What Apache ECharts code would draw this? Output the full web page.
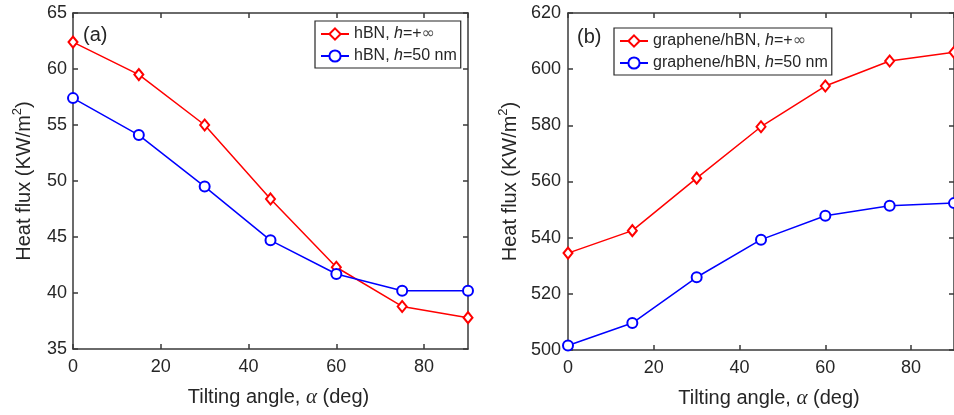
<!DOCTYPE html>
<html>
<head>
<meta charset="utf-8">
<script src="https://cdn.jsdelivr.net/npm/echarts@6/dist/echarts.min.js"></script>
<style>
  html, body { margin: 0; padding: 0; background: #fff; }
  #chart { width: 954px; height: 415px; }
</style>
</head>
<body>
<div id="chart"></div>
<script>
// Tilting angle (deg)
const angles = [0, 15, 30, 45, 60, 75, 90];

// (a) hBN heat flux, KW/m^2
const hbnInf = [62.4, 59.5, 55.0, 48.4, 42.3, 38.8, 37.8];
const hbn50 = [57.4, 54.1, 49.5, 44.7, 41.7, 40.2, 40.2];

// (b) graphene/hBN heat flux, KW/m^2
const grInf = [534.5, 542.5, 561.2, 579.5, 594.0, 602.9, 606.0];
const gr50 = [501.6, 509.6, 525.9, 539.3, 547.8, 551.4, 552.3];

const seriesNames = ['hBN, h=+∞', 'hBN, h=50 nm', 'graphene/hBN, h=+∞', 'graphene/hBN, h=50 nm'];

const FONT = 'Liberation Sans, Arial, Helvetica, sans-serif';
const TEXT = '#262626';
const AXIS = '#3a3a3a';
const RED = '#ff0000';
const BLUE = '#0000ff';

const pairs = (ys) => angles.map((a, i) => [a, ys[i]]);

const richText = {
  t: { fontFamily: FONT, fontSize: 16, color: TEXT },
  i: { fontFamily: FONT, fontSize: 16, fontStyle: 'italic', color: TEXT },
  inf: { fontFamily: 'DejaVu Sans, sans-serif', fontSize: 16, color: '#555' }
};
function legendLabel(name) {
  const m = name.match(/^(.*), h=(.*)$/);
  const v = m[2] === '+∞' ? '{t|=+}{inf|∞}' : '{t|=' + m[2] + '}';
  return '{t|' + m[1] + ', }{i|h}' + v;
}

function xAxes(gridIndex) {
  const base = {
    type: 'value', gridIndex, min: 0, max: 90, interval: 20,
    axisLine: { show: true, onZero: false, lineStyle: { color: AXIS, width: 1.5 } },
    axisTick: { show: true, inside: true, length: 5, lineStyle: { color: AXIS, width: 1.5 } },
    splitLine: { show: false }
  };
  return [
    Object.assign({}, base, {
      position: 'bottom',
      name: 'Tilting angle, {a|α} (deg)',
      nameLocation: 'middle', nameGap: 38,
      nameTextStyle: {
        fontFamily: FONT, fontSize: 20, color: TEXT, padding: [0, 0, 0, 16],
        rich: {
          a: { fontFamily: 'Liberation Serif, serif', fontStyle: 'italic', fontSize: 21, color: TEXT }
        }
      },
      axisLabel: { show: true, showMaxLabel: false, margin: 9, fontFamily: FONT, fontSize: 18, color: TEXT }
    }),
    Object.assign({}, base, { position: 'top', axisLabel: { show: false } })
  ];
}

function yAxes(gridIndex, min, max, interval, gap, margin) {
  const base = {
    type: 'value', gridIndex, min, max, interval,
    axisLine: { show: true, onZero: false, lineStyle: { color: AXIS, width: 1.5 } },
    axisTick: { show: true, inside: true, length: 5, lineStyle: { color: AXIS, width: 1.5 } },
    splitLine: { show: false }
  };
  return [
    Object.assign({}, base, {
      position: 'left',
      name: 'Heat flux (KW/m{s|2})',
      nameLocation: 'middle', nameGap: gap, nameRotate: 90,
      nameTextStyle: {
        fontFamily: FONT, fontSize: 20, color: TEXT, lineHeight: 26,
        rich: {
          s: { fontFamily: FONT, fontSize: 13, color: TEXT, verticalAlign: 'top', lineHeight: 26 }
        }
      },
      axisLabel: { show: true, margin: margin, fontFamily: FONT, fontSize: 18, color: TEXT }
    }),
    Object.assign({}, base, { position: 'right', axisLabel: { show: false } })
  ];
}

function lineSeries(name, ys, color, symbol, size, xi, yi) {
  return {
    type: 'line', name, data: pairs(ys),
    xAxisIndex: xi, yAxisIndex: yi,
    symbol, symbolSize: size, showAllSymbol: true,
    lineStyle: { color, width: 1.5 },
    itemStyle: { color, borderColor: color, borderWidth: 1.5 },
    emphasis: { disabled: true },
    animation: false, z: 3
  };
}

function legendBox(left, top, names) {
  return {
    data: names, orient: 'vertical', left, top,
    padding: [5, 4, 4, 5], itemGap: 6, itemWidth: 28, itemHeight: 14,
    borderColor: TEXT, borderWidth: 1.2, backgroundColor: '#fff',
    selectedMode: false,
    formatter: legendLabel,
    textStyle: { fontFamily: FONT, fontSize: 16, color: TEXT, rich: richText }
  };
}

const chart = echarts.init(document.getElementById('chart'), null, { renderer: 'canvas' });
chart.setOption({
  animation: false,
  backgroundColor: '#fff',
  grid: [
    { left: 73, top: 13, width: 395, height: 336, show: false },
    { left: 568, top: 13, width: 394, height: 337, show: false }
  ],
  xAxis: xAxes(0).concat(xAxes(1)),
  yAxis: yAxes(0, 35, 65, 5, 36, 6).concat(yAxes(1, 500, 620, 20, 45, 7)),
  legend: [
    legendBox(315, 21, [seriesNames[0], seriesNames[1]]),
    legendBox(614, 28, [seriesNames[2], seriesNames[3]])
  ],
  graphic: [
    { type: 'text', left: 83, top: 25, style: { text: '(a)', fontFamily: FONT, fontSize: 20, fill: TEXT } },
    { type: 'text', left: 577, top: 27, style: { text: '(b)', fontFamily: FONT, fontSize: 20, fill: TEXT } }
  ],
  series: [
    lineSeries(seriesNames[0], hbnInf, RED, 'emptyDiamond', [9, 11], 0, 0),
    lineSeries(seriesNames[1], hbn50, BLUE, 'emptyCircle', 10, 0, 0),
    lineSeries(seriesNames[2], grInf, RED, 'emptyDiamond', [9, 11], 2, 2),
    lineSeries(seriesNames[3], gr50, BLUE, 'emptyCircle', 10, 2, 2)
  ]
});
</script>
</body>
</html>
